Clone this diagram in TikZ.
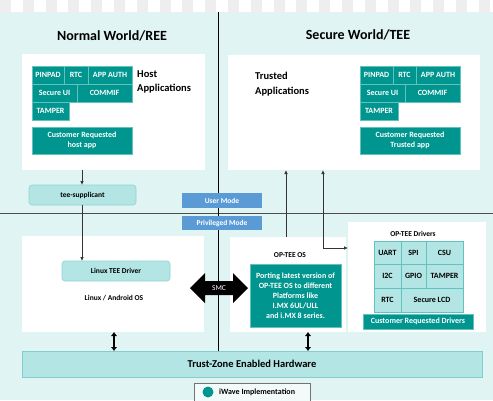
\documentclass[tikz,border=0pt]{standalone}
\usepackage{fontspec}
\setmainfont{Carlito}
\usetikzlibrary{arrows.meta}
\definecolor{bgteal}{HTML}{E0F4F3}
\definecolor{tealdark}{HTML}{00968F}
\definecolor{teallight}{HTML}{B2E5E3}
\definecolor{tileedge}{HTML}{62C2BD}
\definecolor{modeblue}{HTML}{5B9BD5}
\definecolor{chk}{HTML}{EEEEEE}
\begin{document}
\begin{tikzpicture}[x=1pt,y=-1pt,
  box/.style={anchor=north west, inner sep=0pt, outer sep=0pt, align=center},
  tile/.style={box, fill=tealdark, draw=tileedge, line width=0.6pt, text=white, font=\bfseries\fontsize{8}{9.5}\selectfont},
  ltile/.style={box, fill=teallight, draw=tileedge, line width=0.6pt, text=black, font=\bfseries\fontsize{8}{9.5}\selectfont},
  wbox/.style={box, fill=white},
  rbox/.style={box, fill=teallight, draw=teallight!80!tealdark, line width=0.6pt, rounded corners=3pt, font=\bfseries\fontsize{7.5}{9}\selectfont},
  mode/.style={box, fill=modeblue, text=white, font=\bfseries\fontsize{7.5}{9}\selectfont},
  title/.style={font=\bfseries\fontsize{14}{16}\selectfont},
  sub/.style={anchor=north west, inner sep=0pt, align=left, font=\bfseries\fontsize{10.5}{14.5}\selectfont},
  lbl/.style={inner sep=0pt, font=\bfseries\fontsize{7.5}{9}\selectfont},
  conn/.style={draw=black!80, line width=0.7pt},
  tip/.style={-{Latex[length=4pt,width=3.5pt]}},
  fat/.style={line width=2pt, {Latex[length=4pt,width=6.5pt]}-{Latex[length=4pt,width=6.5pt]}}
]
\useasboundingbox (0,0) rectangle (493,400);
% background and checker strip
\fill[bgteal] (0,12) rectangle (493,400);
\fill[white] (0,0) rectangle (493,12);
\foreach \i in {0,...,21} {\fill[chk] (\i*22.8,0) rectangle (\i*22.8+11,12.5);}

% titles
\node[title] (tn) at (112,36) {Normal World/REE};
\node[title] (ts) at (358,35) {Secure World/TEE};

% top white boxes
\node[wbox, minimum width=183pt, minimum height=116pt] (hostbox) at (22,54) {};
\node[wbox, minimum width=252pt, minimum height=115pt] (tabox) at (228,55) {};

% host tiles
\node[tile, minimum width=32pt, minimum height=18pt] (h1) at (32,66) {PINPAD};
\node[tile, minimum width=24pt, minimum height=18pt] (h2) at (64,66) {RTC};
\node[tile, minimum width=44pt, minimum height=18pt] (h3) at (88,66) {APP AUTH};
\node[tile, minimum width=45pt, minimum height=18pt] (h4) at (32,84) {Secure UI};
\node[tile, minimum width=55pt, minimum height=18pt] (h5) at (77,84) {COMMIF};
\node[tile, minimum width=37pt, minimum height=18pt] (h6) at (32,102) {TAMPER};
\node[tile, minimum width=100pt, minimum height=27pt] (h7) at (32,127) {Customer Requested\\host app};
\node[sub] (hosttxt) at (137,70) {Host\\Applications};

% trusted tiles
\node[tile, minimum width=33pt, minimum height=18pt] (t1) at (360,66) {PINPAD};
\node[tile, minimum width=23pt, minimum height=18pt] (t2) at (393,66) {RTC};
\node[tile, minimum width=44pt, minimum height=18pt] (t3) at (416,66) {APP AUTH};
\node[tile, minimum width=45pt, minimum height=18pt] (t4) at (360,84) {Secure UI};
\node[tile, minimum width=55pt, minimum height=18pt] (t5) at (405,84) {COMMIF};
\node[tile, minimum width=38pt, minimum height=18pt] (t6) at (360,102) {TAMPER};
\node[tile, minimum width=100pt, minimum height=27pt] (t7) at (360,127) {Customer Requested\\Trusted app};
\node[sub] (tatxt) at (255,72) {Trusted\\Applications};

% lower white boxes
\node[wbox, minimum width=182pt, minimum height=96pt] (linbox) at (22,236) {};
\node[wbox, minimum width=116pt, minimum height=95pt] (osbox) at (230,237) {};
\node[wbox, minimum width=138pt, minimum height=110pt] (drvbox) at (348,222) {};

% dividers
\draw[black!70, line width=0.8pt] (0,213) -- (493,213);
\draw[black, line width=0.8pt] (218,12) -- (218,351);

% mode boxes
\node[mode, minimum width=80pt, minimum height=15pt] (um) at (182,193) {User Mode};
\node[mode, minimum width=80pt, minimum height=14pt] (pm) at (182,216) {Privileged Mode};

% normal world lower part
\node[rbox, minimum width=107pt, minimum height=20pt] (tee) at (29,185) {tee-supplicant};
\node[rbox, minimum width=108pt, minimum height=20pt] (ltd) at (62,261) {Linux TEE  Driver};
\node[lbl] (los) at (114,298) {Linux / Android OS};
\draw[conn, tip] (82,170) -- (tee.north -| 82,0);
\draw[conn, tip] (tee.south -| 82,0) -- (ltd.north -| 82,0);

% OP-TEE OS
\node[lbl] (ostxt) at (290,255) {OP-TEE OS};
\node[tile, minimum width=91pt, minimum height=63pt, font=\bfseries\fontsize{8}{10}\selectfont] (port) at (250,264) {Porting latest version of\\OP-TEE OS to different\\Platforms like\\I.MX 6UL/ULL\\and i.MX 8 series.};

% OP-TEE drivers
\node[lbl] (drvtxt) at (413,234) {OP-TEE Drivers};
\node[ltile, minimum width=27pt, minimum height=23pt] (d1) at (374,241) {UART};
\node[ltile, minimum width=25pt, minimum height=23pt] (d2) at (401,241) {SPI};
\node[ltile, minimum width=37pt, minimum height=23pt] (d3) at (426,241) {CSU};
\node[ltile, minimum width=27pt, minimum height=24pt] (d4) at (374,264) {I2C};
\node[ltile, minimum width=25pt, minimum height=24pt] (d5) at (401,264) {GPIO};
\node[ltile, minimum width=37pt, minimum height=24pt] (d6) at (426,264) {TAMPER};
\node[ltile, minimum width=27pt, minimum height=24pt] (d7) at (374,288) {RTC};
\node[ltile, minimum width=62pt, minimum height=24pt] (d8) at (401,288) {Secure LCD};
\node[tile, minimum width=110pt, minimum height=15pt] (d9) at (363,314) {Customer Requested Drivers};

% connectors to trusted apps
\coordinate (c1) at (286,237);
\coordinate (c2) at (323,170);
\draw[conn, tip] (osbox.north -| c1) -- (tabox.south -| c1);
\draw[conn, {Latex[length=4pt,width=3.5pt]}-{Latex[length=4pt,width=3.5pt]}] (c2) -- (323,248) -- (drvbox.west |- 0,248);

% SMC arrow
\fill[black] (190,288) -- (205,273) -- (205,281) -- (233,281) -- (233,273) -- (248,288) -- (233,303) -- (233,295) -- (205,295) -- (205,303) -- cycle;
\node[lbl, text=white, font=\fontsize{7.5}{9}\selectfont] (smc) at (219,288) {SMC};

% hardware
\node[box, fill=teallight, draw=tileedge!80, line width=0.7pt, minimum width=460pt, minimum height=26pt, font=\bfseries\fontsize{10.5}{12}\selectfont] (hw) at (22,351) {Trust-Zone Enabled Hardware};
\draw[fat] (linbox.south -| 114,0) -- (hw.north -| 114,0);
\draw[fat] (osbox.south -| 308,0) -- (hw.north -| 308,0);

% legend
\node[box, fill=white!60!bgteal, draw=black!55, line width=0.7pt, minimum width=116pt, minimum height=19pt] (leg) at (194,383) {};
\fill[tealdark] (208,392) circle (5.5pt);
\node[lbl, anchor=west, font=\bfseries\fontsize{8}{9}\selectfont] (legtxt) at (219,392) {iWave Implementation};
\end{tikzpicture}
\end{document}
